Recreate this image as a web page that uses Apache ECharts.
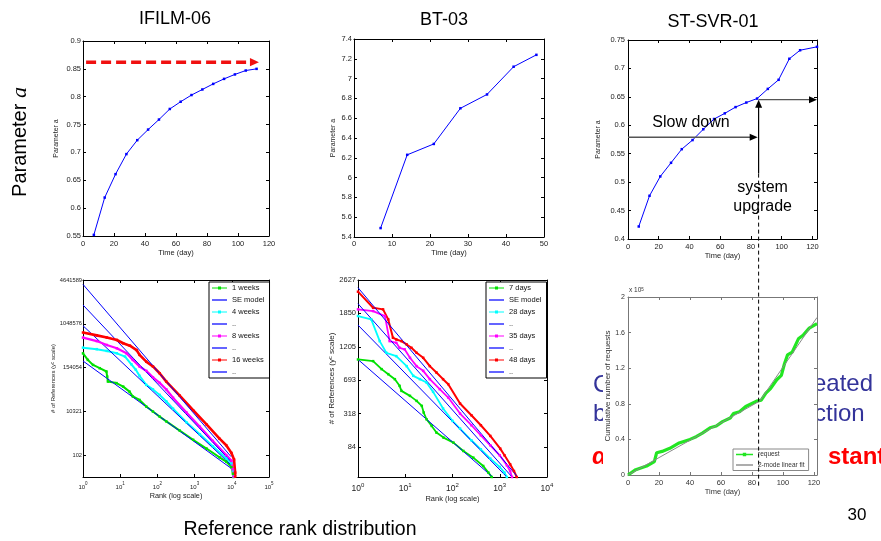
<!DOCTYPE html>
<html>
<head>
<meta charset="utf-8">
<script src="https://cdn.jsdelivr.net/npm/echarts@6/dist/echarts.min.js"></script>
<style>
html,body{margin:0;padding:0;background:#fff;}
#main{width:881px;height:541px;}
</style>
</head>
<body>
<div id="main"></div>
<script>
// ---------- Parameter a over time ----------
const ifilmDays  = [7,14,21,28,35,42,49,56,63,70,77,84,91,98,105,112];
const ifilmAlpha = [0.552,0.619,0.661,0.697,0.722,0.741,0.759,0.778,0.791,0.803,0.813,0.823,0.832,0.840,0.847,0.850];
const btDays  = [7,14,21,28,35,42,48];
const btAlpha = [5.49,6.23,6.34,6.70,6.84,7.12,7.24];
const stDays  = [7,14,21,28,35,42,49,56,63,70,77,84,91,98,105,112,123];
const stAlpha = [0.422,0.476,0.510,0.534,0.558,0.574,0.593,0.611,0.621,0.632,0.640,0.647,0.664,0.680,0.717,0.732,0.738];

// annotation levels (data units)
const ifilmLimit = 0.862, ifilmLimitSpan = [2, 113.5];
const slowLevel = 0.579, upgradeDay = 85, upgradeLevel = 0.645, upgradeSolidFrom = 0.515;

// ---------- rank distributions: [log10(rank), references on the y^c scale] ----------
const ifilmW1  = [[0,6.65],[0.13,6.35],[0.27,6.12],[0.45,5.97],[0.63,5.82],[0.65,5.59],[0.67,5.36],[0.90,5.29],[1.08,5.13],[1.25,4.90],[1.34,4.68],[1.52,4.52],[1.70,4.22],[1.88,3.99],[2.06,3.76],[2.24,3.54],[2.60,3.12],[2.96,2.70],[3.32,2.30],[3.67,1.90],[3.85,1.70],[3.99,1.45],[4.03,1.15],[4.04,1.0]];
const ifilmW4  = [[0,6.91],[0.37,6.84],[0.64,6.76],[0.91,6.65],[1.13,6.50],[1.30,6.15],[1.42,5.90],[1.52,5.62],[1.70,5.21],[1.88,5.00],[2.06,4.75],[2.24,4.45],[2.42,4.12],[2.78,3.50],[3.14,2.95],[3.49,2.40],[3.85,1.85],[3.99,1.62],[4.03,1.30],[4.05,1.02]];
const ifilmW8  = [[0,7.37],[0.37,7.21],[0.64,7.03],[0.91,6.88],[1.17,6.65],[1.34,6.35],[1.52,6.05],[1.70,5.85],[1.88,5.55],[2.06,5.30],[2.24,5.00],[2.42,4.62],[2.78,3.95],[3.14,3.30],[3.49,2.65],[3.85,2.00],[3.99,1.75],[4.03,1.35],[4.05,1.02]];
const ifilmW16 = [[0,7.60],[0.37,7.47],[0.64,7.37],[0.91,7.26],[1.08,7.11],[1.26,7.00],[1.44,6.80],[1.52,6.58],[1.70,6.27],[1.88,6.05],[2.06,5.74],[2.24,5.36],[2.60,4.72],[2.96,4.05],[3.32,3.40],[3.67,2.75],[3.85,2.45],[3.99,2.10],[4.06,1.80],[4.09,1.20],[4.09,1.02]];
const ifilmSE  = [[[0,6.30],[3.98,1.40]],[[0,7.91],[3.98,1.55]],[[0,8.86],[3.98,1.70]],[[0,9.80],[3.98,1.93]]];

const bt7  = [[0,36.2],[0.32,35.7],[0.50,33.3],[0.64,31.8],[0.78,30.3],[0.88,28.3],[0.92,26.8],[1.10,25.3],[1.24,23.8],[1.35,22.3],[1.39,20.3],[1.45,18.3],[1.56,16.3],[1.66,14.3],[1.81,12.8],[2.02,11.3],[2.23,8.8],[2.44,6.8],[2.65,4.3],[2.76,2.3],[2.83,1.0]];
const bt28 = [[0,49.2],[0.28,48.2],[0.46,41.7],[0.60,38.2],[0.81,37.2],[1.03,34.2],[1.17,31.3],[1.31,30.3],[1.45,29.3],[1.59,26.5],[1.80,21.5],[2.00,17.8],[2.16,15.5],[2.40,12.0],[2.60,9.3],[2.80,6.5],[3.00,4.0],[3.10,2.3],[3.15,1.0]];
const bt35 = [[0,51.2],[0.32,50.7],[0.57,49.2],[0.67,41.7],[0.81,41.2],[0.88,39.7],[0.99,39.2],[1.10,36.7],[1.24,34.2],[1.38,32.8],[1.52,30.3],[1.73,27.3],[1.91,24.8],[2.16,20.0],[2.40,16.5],[2.60,13.5],[2.80,10.5],[3.00,7.5],[3.15,4.5],[3.22,2.8],[3.26,1.0]];
const bt48 = [[0,56.5],[0.32,51.7],[0.53,51.2],[0.64,48.2],[0.74,42.7],[0.81,42.2],[0.92,41.7],[1.03,40.7],[1.13,39.7],[1.24,38.2],[1.38,36.7],[1.52,34.2],[1.66,32.3],[1.80,30.3],[1.91,28.8],[2.16,23.0],[2.40,19.5],[2.60,16.5],[2.80,13.3],[3.01,9.5],[3.10,7.5],[3.22,4.8],[3.30,2.8],[3.36,1.0]];
const btSE = [[[0,36.2],[2.85,1.0]],[[0,46.5],[3.15,1.0]],[[0,52.9],[3.26,1.0]],[[0,57.7],[3.38,1.0]]];

// y^c tick positions and their labels
const ifilmTickPos  = [2,4,6,8,10];
const ifilmTickText = ['102','10321','154054','1048576','4641589'];
const btTickPos  = [10,20,30,40,50,60];
const btTickText = ['84','318','693','1205','1850','2627'];

// ---------- cumulative requests (x 10^5) ----------
const reqDays  = [0,5,12,17,18.5,22,27,33,40,44,48,53,57,61,66,68,72,76,83,86,89,92,96,99,101,103,106,110,113,117,122];
const reqCount = [0,0.06,0.10,0.15,0.25,0.265,0.30,0.36,0.40,0.43,0.47,0.53,0.55,0.60,0.64,0.69,0.71,0.77,0.83,0.84,0.92,0.97,1.07,1.12,1.25,1.35,1.38,1.53,1.57,1.65,1.70];
const fitDays  = [0,85,122];
const fitCount = [0,0.83,1.77];

const dayTicks = [0,20,40,60,80,100,120];

const FONT = '"Liberation Sans", Arial, Helvetica, sans-serif';
const SERIF = '"Liberation Serif", "Times New Roman", serif';

const grids = [
  {left: 83,  top: 41,  width: 186, height: 195},
  {left: 354, top: 39,  width: 190, height: 198},
  {left: 628, top: 40,  width: 189, height: 199},
  {left: 83,  top: 280, width: 186, height: 197},
  {left: 358, top: 280, width: 189, height: 197},
  {left: 628, top: 297, width: 189, height: 178}
];

// one labelled axis plus a mirrored one on the opposite side to close the frame
function makeAxes(gi, dim, s) {
  const col = s.color || '#000';
  const tick = {show: true, inside: true, length: 3, lineStyle: {color: col, width: 1}};
  if (s.ticks) tick.customValues = s.ticks;
  const base = {
    gridIndex: gi, type: s.type || 'value', min: s.min, max: s.max,
    splitLine: {show: false},
    axisLine: {show: true, onZero: false, lineStyle: {color: col, width: 1}}
  };
  if (s.interval != null) base.interval = s.interval;
  if (s.logBase) base.logBase = s.logBase;
  const label = {show: true, color: s.labelColor || '#222', fontFamily: FONT, fontSize: s.labelSize,
    margin: s.labelMargin, showMinLabel: true, showMaxLabel: true};
  if (s.fmt) label.formatter = s.fmt;
  if (s.rich) label.rich = s.rich;
  if (s.ticks) label.customValues = s.ticks;
  const main = Object.assign({}, base, {
    position: dim === 'x' ? 'bottom' : 'left',
    axisTick: Object.assign({}, tick),
    axisLabel: label,
    name: s.name || '', nameLocation: 'middle', nameGap: s.nameGap,
    nameRotate: dim === 'y' ? 90 : 0,
    nameTextStyle: {fontFamily: FONT, fontSize: s.nameSize, color: s.labelColor || '#222', rich: s.nameRich}
  });
  const mirror = Object.assign({}, base, {
    position: dim === 'x' ? 'top' : 'right',
    axisTick: Object.assign({}, tick),
    axisLabel: {show: false}
  });
  return [main, mirror];
}

const supRich = (b, s) => ({b: {fontSize: b, fontFamily: FONT, color: '#222', lineHeight: b + 3, verticalAlign: 'bottom'},
                            s: {fontSize: s, fontFamily: FONT, color: '#222', verticalAlign: 'top', lineHeight: b + 3}});
const rankFmt = v => '{b|10}{s|' + Math.round(Math.log10(v)) + '}';

const xAxes = [], yAxes = [];
function addAxes(gi, xs, ys) { xAxes.push(...makeAxes(gi, 'x', xs)); yAxes.push(...makeAxes(gi, 'y', ys)); }

addAxes(0, {min: 0, max: 120, interval: 20, labelSize: 7.5, labelMargin: 4, name: 'Time (day)', nameGap: 12, nameSize: 7.5},
           {min: 0.55, max: 0.9, interval: 0.05, labelSize: 7.5, labelMargin: 2, name: 'Parameter a', nameGap: 23, nameSize: 7});
addAxes(1, {min: 0, max: 50, interval: 10, labelSize: 7.5, labelMargin: 3, name: 'Time (day)', nameGap: 10, nameSize: 7.5},
           {min: 5.4, max: 7.4, interval: 0.2, labelSize: 7.5, labelMargin: 2, name: 'Parameter a', nameGap: 17, nameSize: 7});
addAxes(2, {min: 0, max: 123, ticks: dayTicks, labelSize: 7.5, labelMargin: 4, name: 'Time (day)', nameGap: 13, nameSize: 7.5},
           {min: 0.4, max: 0.75, interval: 0.05, labelSize: 7.5, labelMargin: 3, name: 'Parameter a', nameGap: 26, nameSize: 7});
addAxes(3, {type: 'log', logBase: 10, min: 1, max: 100000, labelSize: 6, labelMargin: 4, fmt: rankFmt, rich: supRich(6, 4.5),
            name: 'Rank (log scale)', nameGap: 15, nameSize: 7.3},
           {min: 1, max: 10, ticks: ifilmTickPos, fmt: v => ifilmTickText[ifilmTickPos.indexOf(v)], labelSize: 5.7, labelMargin: 1,
            name: '# of References (y{s|c} scale)', nameGap: 23, nameSize: 6,
            nameRich: {s: {fontSize: 4.5, fontFamily: FONT, color: '#222', verticalAlign: 'top'}}});
addAxes(4, {type: 'log', logBase: 10, min: 1, max: 10000, labelSize: 8.5, labelMargin: 5, fmt: rankFmt, rich: supRich(8.5, 6),
            name: 'Rank (log scale)', nameGap: 18, nameSize: 7.5},
           {min: 1, max: 60, ticks: btTickPos, fmt: v => btTickText[btTickPos.indexOf(v)], labelSize: 7.5, labelMargin: 2,
            name: '# of References (y{s|c} scale)', nameGap: 21, nameSize: 8,
            nameRich: {s: {fontSize: 5.5, fontFamily: FONT, color: '#222', verticalAlign: 'top'}}});
addAxes(5, {min: 0, max: 122, ticks: dayTicks, labelSize: 7.5, labelMargin: 4, name: 'Time (day)', nameGap: 12, nameSize: 7.5,
            color: '#777', labelColor: '#333'},
           {min: 0, max: 2, interval: 0.4, labelSize: 7, labelMargin: 3, name: 'Cumulative number of requests', nameGap: 16, nameSize: 8,
            color: '#777', labelColor: '#333'});

function lineSeries(name, gi, data, color, width, symbol, symbolSize) {
  return {
    type: 'line', name, xAxisIndex: 2 * gi, yAxisIndex: 2 * gi, data,
    symbol: symbol || 'none', symbolSize: symbolSize || 3, showSymbol: !!symbol,
    lineStyle: {color, width}, itemStyle: {color}, emphasis: {disabled: true},
    silent: true, clip: true
  };
}
const zip = (xs, ys) => xs.map((x, i) => [x, ys[i]]);
const rankPts = pts => pts.map(p => [Math.pow(10, p[0]), p[1]]);

const BLUE = '#0000ff', GREEN = '#00e000', CYAN = '#00ffff', MAGENTA = '#ff00ff', RED = '#ff0000';
const hidden1 = '..', hidden2 = '..\u200b', hidden3 = '..\u200b\u200b';

const series = [
  lineSeries('IFILM-06', 0, zip(ifilmDays, ifilmAlpha), BLUE, 1, 'rect', 2.5),
  lineSeries('BT-03', 1, zip(btDays, btAlpha), BLUE, 1, 'rect', 2.5),
  lineSeries('ST-SVR-01', 2, zip(stDays, stAlpha), BLUE, 1, 'rect', 2.5),

  lineSeries('1 weeks', 3, rankPts(ifilmW1), GREEN, 2, 'rect', 2.5),
  lineSeries('SE model', 3, rankPts(ifilmSE[0]), BLUE, 1),
  lineSeries('4 weeks', 3, rankPts(ifilmW4), CYAN, 2, 'rect', 2.5),
  lineSeries(hidden1, 3, rankPts(ifilmSE[1]), BLUE, 1),
  lineSeries('8 weeks', 3, rankPts(ifilmW8), MAGENTA, 2.2, 'rect', 2.5),
  lineSeries(hidden2, 3, rankPts(ifilmSE[2]), BLUE, 1),
  lineSeries('16 weeks', 3, rankPts(ifilmW16), RED, 2.6, 'rect', 2.5),
  lineSeries(hidden3, 3, rankPts(ifilmSE[3]), BLUE, 1),

  lineSeries('7 days', 4, rankPts(bt7), GREEN, 1.8, 'rect', 2.5),
  lineSeries('SE model', 4, rankPts(btSE[0]), BLUE, 1),
  lineSeries('28 days', 4, rankPts(bt28), CYAN, 1.8, 'rect', 2.5),
  lineSeries(hidden1, 4, rankPts(btSE[1]), BLUE, 1),
  lineSeries('35 days', 4, rankPts(bt35), MAGENTA, 1.8, 'rect', 2.5),
  lineSeries(hidden2, 4, rankPts(btSE[2]), BLUE, 1),
  lineSeries('48 days', 4, rankPts(bt48), RED, 2, 'rect', 2.5),
  lineSeries(hidden3, 4, rankPts(btSE[3]), BLUE, 1),

  lineSeries('request', 5, zip(reqDays, reqCount), '#22e622', 3.2),
  lineSeries('2-mode linear fit', 5, zip(fitDays, fitCount), '#888888', 1)
];

const lineIcon = 'path://M0,0H16V1.3H0Z';
const markIcon = 'path://M0,1H16V2.3H0Z M6.4,0H9.6V3.3H6.4Z';
const legendBase = {
  orient: 'vertical', selectedMode: false, backgroundColor: '#fff', borderColor: '#000', borderWidth: 1, borderRadius: 0,
  itemWidth: 15, itemHeight: 8, itemGap: 4, padding: [2, 5, 2, 3],
  textStyle: {fontFamily: FONT, fontSize: 7.5, color: '#111'}
};
const legendItems = (names) => names.map((n, i) => ({name: n, icon: i % 2 === 0 ? markIcon : lineIcon}));

const option = {
  animation: false,
  backgroundColor: '#fff',
  grid: grids,
  xAxis: xAxes,
  yAxis: yAxes,
  legend: [
    Object.assign({}, legendBase, {left: 209, top: 282,
      data: legendItems(['1 weeks', 'SE model', '4 weeks', hidden1, '8 weeks', hidden2, '16 weeks', hidden3])}),
    Object.assign({}, legendBase, {left: 486, top: 282,
      data: legendItems(['7 days', 'SE model', '28 days', hidden1, '35 days', hidden2, '48 days', hidden3])}),
    Object.assign({}, legendBase, {left: 733, top: 449, itemWidth: 17, itemHeight: 7, itemGap: 3.5, padding: [2, 4, 2, 3],
      borderColor: '#888', textStyle: {fontFamily: FONT, fontSize: 6.5, color: '#333'},
      data: [{name: 'request', icon: markIcon}, {name: '2-mode linear fit', icon: lineIcon}]})
  ],
  series
};

const chart = echarts.init(document.getElementById('main'), null, {renderer: 'canvas'});
chart.setOption(option);

// ---------- annotations positioned through the axes ----------
const toPx = (gi, x, y) => chart.convertToPixel({xAxisIndex: 2 * gi, yAxisIndex: 2 * gi}, [x, y]);

function arrowHead(tip, from, L, W, color) {
  const dx = tip[0] - from[0], dy = tip[1] - from[1], len = Math.hypot(dx, dy);
  const ux = dx / len, uy = dy / len, bx = tip[0] - ux * L, by = tip[1] - uy * L;
  return {type: 'polygon', z: 30, silent: true,
    shape: {points: [tip, [bx - uy * W, by + ux * W], [bx + uy * W, by - ux * W]]}, style: {fill: color}};
}
function seg(p, q, stroke, width, dash) {
  return {type: 'line', z: 30, silent: true, shape: {x1: p[0], y1: p[1], x2: q[0], y2: q[1]},
    style: {stroke, lineWidth: width, lineDash: dash || null}};
}
function label(text, x, y, size, extra) {
  return {type: 'text', x, y, z: 30, silent: true,
    style: Object.assign({text, fontSize: size, fontFamily: FONT, fill: '#000', align: 'center', verticalAlign: 'middle'}, extra || {})};
}

const g = [];
// slide texts partly covered by the cumulative-requests figure
g.push({type: 'text', x: 593, y: 385, z: -2, silent: true, style: {text: 'C', fontSize: 24, fontFamily: FONT, fill: '#33339a', verticalAlign: 'middle'}});
g.push({type: 'text', x: 593, y: 414, z: -2, silent: true, style: {text: 'b', fontSize: 24, fontFamily: FONT, fill: '#33339a', verticalAlign: 'middle'}});
g.push({type: 'text', x: 592, y: 457, z: -2, silent: true, style: {text: 'α', fontSize: 24, fontFamily: FONT, fontStyle: 'italic', fontWeight: 'bold', fill: '#ff0000', verticalAlign: 'middle'}});
g.push({type: 'text', x: 813, y: 384, z: -2, silent: true, style: {text: 'eated', fontSize: 24, fontFamily: FONT, fill: '#33339a', verticalAlign: 'middle'}});
g.push({type: 'text', x: 814, y: 414, z: -2, silent: true, style: {text: 'ction', fontSize: 24, fontFamily: FONT, fill: '#33339a', verticalAlign: 'middle'}});
g.push({type: 'text', x: 828, y: 457, z: -2, silent: true, style: {text: 'stant', fontSize: 24, fontFamily: FONT, fontWeight: 'bold', fill: '#ff0000', verticalAlign: 'middle'}});
g.push({type: 'rect', z: -1, silent: true, shape: {x: 603, y: 284, width: 215, height: 212}, style: {fill: '#fff'}});

// titles and captions
g.push(label('IFILM-06', 175, 19, 18));
g.push(label('BT-03', 444, 20, 18));
g.push(label('ST-SVR-01', 713, 22, 18));
g.push({type: 'text', x: 20, y: 142, rotation: Math.PI / 2, z: 30, silent: true,
  style: {text: 'Parameter {i|a}', fontSize: 20, fontFamily: FONT, fill: '#000', align: 'center', verticalAlign: 'middle',
    rich: {i: {fontSize: 22, fontFamily: SERIF, fontStyle: 'italic', fill: '#000'}}}});
g.push(label('Reference rank distribution', 300, 530, 19.5));
g.push(label('30', 857, 515, 17));

// asymptote arrow on IFILM-06
const r0 = toPx(0, ifilmLimitSpan[0], ifilmLimit), r1 = toPx(0, ifilmLimitSpan[1], ifilmLimit);
g.push(seg(r0, [r1[0] - 8, r1[1]], '#f01010', 3.5, [10, 5]));
g.push(arrowHead(r1, r0, 9, 4.2, '#f01010'));

// slow-down / system-upgrade annotations on ST-SVR-01
const s0 = toPx(2, 0, slowLevel), s1 = toPx(2, upgradeDay - 0.6, slowLevel);
g.push(seg(s0, [s1[0] - 6, s1[1]], '#555', 1.3));
g.push(arrowHead(s1, s0, 8, 3.5, '#000'));
const u0 = toPx(2, upgradeDay, upgradeSolidFrom), u1 = toPx(2, upgradeDay, upgradeLevel);
g.push(seg(u0, [u1[0], u1[1] + 6], '#000', 1.2));
g.push(arrowHead(u1, u0, 8, 3.5, '#000'));
const h1 = toPx(2, 123, upgradeLevel);
g.push(seg(u1, [h1[0] - 6, h1[1]], '#555', 1.3));
g.push(arrowHead(h1, u1, 8, 3.5, '#000'));
const bottomY = toPx(5, 0, 0)[1] + 12;
g.push(seg(u0, [u0[0], bottomY], '#000', 1, [4, 3]));
g.push(label('Slow down', 691, 123, 16));
g.push(label('system\nupgrade', u0[0] + 4, 197, 16, {lineHeight: 19}));

// exponent note on the cumulative-requests axis
const e0 = toPx(5, 0, 2);
g.push({type: 'text', x: e0[0] + 1, y: e0[1] - 3, z: 30, silent: true,
  style: {text: 'x 10{s|5}', fontSize: 6.5, fontFamily: FONT, fill: '#333', verticalAlign: 'bottom',
    rich: {s: {fontSize: 4.5, fontFamily: FONT, fill: '#333', verticalAlign: 'top'}}}});

chart.setOption({graphic: {elements: g}});
</script>
</body>
</html>
